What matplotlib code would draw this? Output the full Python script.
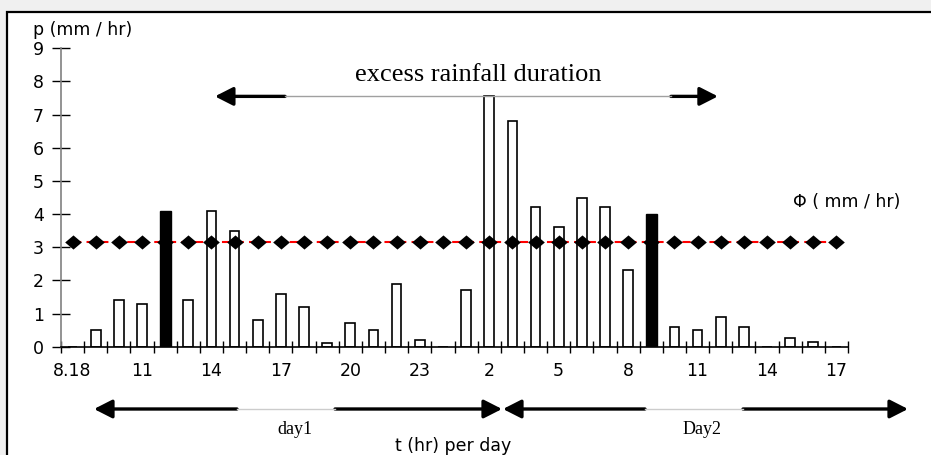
import numpy as np
import matplotlib.pyplot as plt
from matplotlib.patches import Rectangle
from matplotlib.path import Path

plt.rcParams['font.family'] = ['DejaVu Sans']

# hourly rainfall, day 1 from 8h to day 2 at 17h
hours = list(range(8, 24)) + list(range(0, 18))
rain = [0, 0.5, 1.4, 1.3, 4.1, 1.4, 4.1, 3.5, 0.8, 1.6, 1.2, 0.1, 0.7, 0.5, 1.9, 0.2,
        0, 1.7, 7.55, 6.8, 4.2, 3.6, 4.5, 4.2, 2.3, 4.0, 0.6, 0.5, 0.9, 0.6, 0, 0.25, 0.15, 0]
filled = [4, 25]          # bars drawn solid black
phi_value = 3.15
tick_labels = ["8.18", "11", "14", "17", "20", "23", "2", "5", "8", "11", "14", "17"]

W, H = 931, 455
fig = plt.figure(figsize=(W / 100, H / 100), dpi=100, facecolor='#f0f0f0')
fig.patches.append(Rectangle((7 / W, -0.1), 1.2, 1 - 11.5 / H + 0.1, transform=fig.transFigure,
                             facecolor='white', edgecolor='black', lw=1.6, zorder=-10))

ax = fig.add_axes([61 / W, 1 - 346.7 / H, 787 / W, (346.7 - 48.3) / H])
ax.set_facecolor('none')

x = np.arange(len(rain))
hollow = [i for i in x if i not in filled]
ax.bar(hollow, [rain[i] for i in hollow], width=0.42, color='white', edgecolor='black', lw=1.2, zorder=2)
ax.bar(filled, [rain[i] for i in filled], width=0.48, color='black', edgecolor='black', lw=1, zorder=2)

# slightly flattened diamond marker
diamond = Path([(-1, 0), (0, 0.85), (1, 0), (0, -0.85), (-1, 0)],
               [Path.MOVETO, Path.LINETO, Path.LINETO, Path.LINETO, Path.CLOSEPOLY])
phi = np.full(len(rain), phi_value)
ax.plot(x, phi, color='red', ls=(0, (4, 2.5)), lw=1.5, zorder=3)
ax.plot(x, phi, ls='none', marker=diamond, ms=12, mew=0, color='black', zorder=4)

ax.set_xlim(-0.5, len(rain) - 0.5)
ax.set_ylim(0, 9)
ax.set_yticks(range(10))
ax.set_xticks(np.arange(-0.5, len(rain)), minor=False)
ax.set_xticklabels([])
ax.set_xticks(np.arange(0, len(rain), 3), minor=True)
ax.set_xticklabels(tick_labels, minor=True)
ax.tick_params(axis='x', which='major', direction='inout', length=9, width=1, color='black')
ax.tick_params(axis='x', which='minor', length=0, pad=11, labelsize=12.5)
ax.tick_params(axis='y', direction='inout', length=12.5, width=1, pad=6, labelsize=12.5)
for s in ['top', 'right']:
    ax.spines[s].set_visible(False)
ax.spines['left'].set_color('#808080')
ax.spines['left'].set_linewidth(1.2)
ax.spines['bottom'].set_color('black')
ax.spines['bottom'].set_linewidth(1.2)

# excess rainfall duration arrow
head = dict(arrowstyle='-|>,head_length=0.55,head_width=0.28', mutation_scale=20,
            lw=2.4, color='black', shrinkA=0, shrinkB=0)
ya = 7.55
ax.annotate('', xy=(6.15, ya), xytext=(9.18, ya), arrowprops=head, zorder=5)
ax.annotate('', xy=(27.88, ya), xytext=(25.85, ya), arrowprops=head, zorder=5)
ax.plot([9.18, 25.85], [ya, ya], color='#a0a0a0', lw=1, zorder=5)
fig.text(478 / W, 1 - 75 / H, 'excess rainfall duration', ha='center', va='center',
         family='Liberation Serif', fontsize=19)

fig.text(33 / W, 1 - 30 / H, 'p (mm / hr)', ha='left', va='center', fontsize=12.5)
fig.text(793 / W, 1 - 202 / H, '\u03a6 ( mm / hr)', ha='left', va='center', fontsize=12.5)

# day arrows below the axis
yb = H - 409
for a, b, c, d in [(94, 237, 335, 502), (503, 645, 743, 908)]:
    ax.annotate('', xy=(a, yb), xytext=(b, yb), xycoords='figure pixels',
                textcoords='figure pixels', arrowprops=head, annotation_clip=False)
    ax.annotate('', xy=(d, yb), xytext=(c, yb), xycoords='figure pixels',
                textcoords='figure pixels', arrowprops=head, annotation_clip=False)
    fig.add_artist(plt.Line2D([b / W, c / W], [yb / H, yb / H], color='#cccccc', lw=1))
fig.text(295 / W, 1 - 430 / H, 'day1', ha='center', va='center', family='Liberation Serif', fontsize=13)
fig.text(702 / W, 1 - 430 / H, 'Day2', ha='center', va='center', family='Liberation Serif', fontsize=13)
fig.text(453 / W, 1 - 446 / H, 't (hr) per day', ha='center', va='center', fontsize=12.5)

fig.savefig('out.png', dpi=100, facecolor=fig.get_facecolor())
